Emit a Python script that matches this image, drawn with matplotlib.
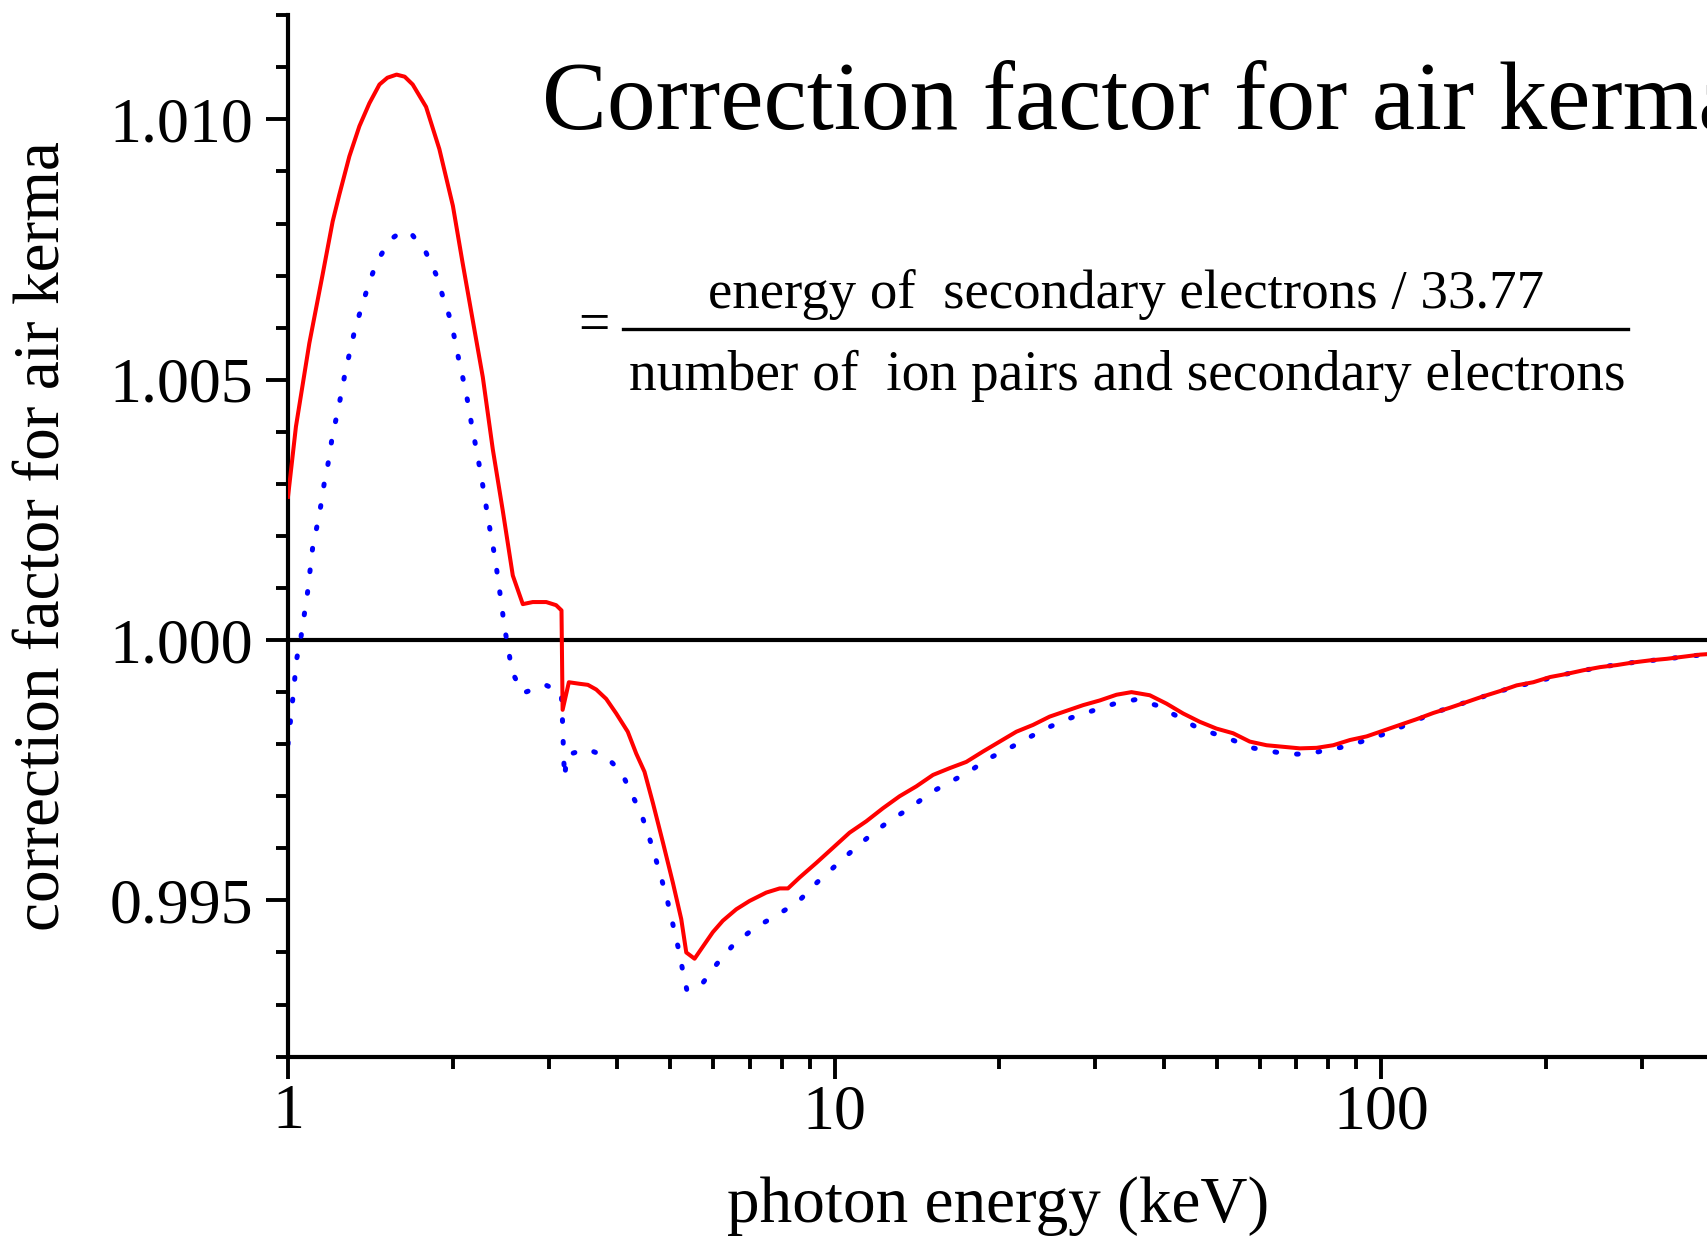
import matplotlib
matplotlib.use("Agg")
import matplotlib.pyplot as plt
from matplotlib.ticker import MultipleLocator, NullFormatter, LogLocator
from matplotlib.lines import Line2D

plt.rcParams['font.family'] = ['Liberation Serif', 'DejaVu Serif']

# ---- data ----
# red solid curve
energy_red = [1.000, 1.034, 1.094, 1.157, 1.207, 1.241, 1.295, 1.351, 1.409, 1.470,
              1.520, 1.580, 1.635, 1.691, 1.789, 1.892, 2.003, 2.087, 2.178, 2.272, 2.370, 2.471,
              2.578, 2.689, 2.804, 2.968, 3.094, 3.165, 3.180, 3.265, 3.416, 3.537,
              3.664, 3.821, 3.986, 4.184, 4.336, 4.490, 4.652, 4.853, 5.060, 5.242,
              5.354, 5.544, 5.783, 5.988, 6.246, 6.610, 6.991, 7.499, 7.935, 8.217,
              8.630, 9.259, 9.931, 10.65, 11.43, 12.26, 13.15, 14.11, 15.14, 16.24,
              17.42, 18.69, 20.05, 21.51, 23.07, 24.75, 26.55, 28.49, 30.56, 32.80,
              34.93, 37.73, 40.47, 43.42, 46.58, 49.96, 53.60, 57.50, 61.71, 66.19,
              71.01, 76.21, 81.72, 87.67, 94.08, 100.9, 108.2, 116.1, 124.6, 133.6,
              143.4, 153.8, 165.0, 177.0, 189.8, 203.8, 218.6, 234.4, 251.5, 269.9,
              289.3, 310.4, 333.2, 357.2, 383.1, 396.4]
factor_red = [1.00275, 1.00410, 1.00570, 1.00702, 1.00804, 1.00855, 1.00929, 1.00987, 1.01031, 1.01067,
              1.01080, 1.01086, 1.01082, 1.01067, 1.01024, 1.00943, 1.00834, 1.00724, 1.00614, 1.00505, 1.00366, 1.00249,
              1.00124, 1.00069, 1.00073, 1.00073, 1.00067, 1.00057, 0.99866, 0.99919, 0.99916, 0.99914,
              0.99905, 0.99887, 0.99859, 0.99824, 0.99782, 0.99747, 0.99687, 0.99611, 0.99534, 0.99464,
              0.99400, 0.99388, 0.99416, 0.99439, 0.99461, 0.99483, 0.99499, 0.99515, 0.99523, 0.99523,
              0.99544, 0.99572, 0.99601, 0.99630, 0.99652, 0.99677, 0.99700, 0.99719, 0.99741, 0.99754,
              0.99766, 0.99786, 0.99805, 0.99824, 0.99837, 0.99853, 0.99864, 0.99875, 0.99884, 0.99895,
              0.99900, 0.99894, 0.99878, 0.99859, 0.99843, 0.99830, 0.99821, 0.99805, 0.99798, 0.99795,
              0.99792, 0.99793, 0.99798, 0.99808, 0.99815, 0.99826, 0.99837, 0.99848, 0.99860, 0.99870,
              0.99881, 0.99892, 0.99902, 0.99913, 0.99919, 0.99929, 0.99935, 0.99942, 0.99948, 0.99952,
              0.99957, 0.99961, 0.99964, 0.99968, 0.99972, 0.99973]

# blue dotted curve
energy_blue = [1.000, 1.021, 1.037, 1.057, 1.086, 1.109, 1.130, 1.149, 1.166, 1.187,
               1.204, 1.228, 1.251, 1.273, 1.300, 1.328, 1.366, 1.405, 1.455, 1.539,
               1.610, 1.680, 1.789, 1.866, 1.920, 1.979, 2.021, 2.059, 2.103, 2.142, 2.173,
               2.215, 2.250, 2.288, 2.320, 2.360, 2.397, 2.427, 2.460, 2.489, 2.532,
               2.567, 2.689, 2.955, 3.162, 3.175, 3.185, 3.194, 3.207, 3.238, 3.513,
               3.809, 4.071, 4.247, 4.430, 4.574, 4.704, 4.831, 4.954, 5.060, 5.168,
               5.264, 5.369, 5.727, 6.090, 6.544, 7.139, 7.823, 8.570, 9.299, 10.12,
               10.76, 11.75, 12.65, 13.82, 14.93, 16.24, 17.62, 19.01, 20.77, 22.59,
               24.69, 27.13, 29.81, 32.56, 35.68, 38.71, 41.94, 45.49, 48.92, 53.46,
               58.07, 63.01, 67.88, 73.76, 78.60, 85.58, 93.39, 102.3, 111.0, 124.6,
               143.4, 165.0, 189.8, 218.6, 251.5, 289.3, 333.2, 396.4]
factor_blue = [0.99800, 0.99890, 0.99963, 1.00008, 1.00092, 1.00176, 1.00219, 1.00260, 1.00304, 1.00345,
               1.00388, 1.00431, 1.00472, 1.00515, 1.00557, 1.00600, 1.00642, 1.00684, 1.00727, 1.00769,
               1.00784, 1.00781, 1.00744, 1.00702, 1.00660, 1.00618, 1.00576, 1.00532, 1.00490, 1.00447, 1.00406,
               1.00363, 1.00322, 1.00278, 1.00236, 1.00193, 1.00152, 1.00110, 1.00067, 1.00024, 0.99982,
               0.99940, 0.99898, 0.99914, 0.99900, 0.99859, 0.99816, 0.99775, 0.99736, 0.99779, 0.99791,
               0.99777, 0.99747, 0.99706, 0.99666, 0.99623, 0.99581, 0.99539, 0.99496, 0.99454, 0.99412,
               0.99370, 0.99327, 0.99340, 0.99378, 0.99416, 0.99447, 0.99471, 0.99497, 0.99535, 0.99570,
               0.99595, 0.99629, 0.99654, 0.99679, 0.99706, 0.99727, 0.99747, 0.99771, 0.99791, 0.99812,
               0.99833, 0.99851, 0.99865, 0.99878, 0.99886, 0.99875, 0.99856, 0.99835, 0.99822, 0.99808,
               0.99793, 0.99786, 0.99781, 0.99781, 0.99788, 0.99795, 0.99807, 0.99821, 0.99837, 0.99860,
               0.99881, 0.99902, 0.99919, 0.99935, 0.99948, 0.99957, 0.99964, 0.99973]

x_ticks = [1, 10, 100]
x_tick_labels = ["1", "10", "100"]
y_ticks = [0.995, 1.000, 1.005, 1.010]
y_tick_labels = ["0.995", "1.000", "1.005", "1.010"]

title_text = "Correction factor for air kerma"
numerator_text = "energy of  secondary electrons / 33.77"
denominator_text = "number of  ion pairs and secondary electrons"
xlabel_text = "photon energy (keV)"
ylabel_text = "correction factor for air kerma"

# ---- figure ----
W, H = 1708, 1238
fig = plt.figure(figsize=(W / 100, H / 100), dpi=100)
ax = fig.add_axes([288 / W, 181.4 / H, 1 - 288 / W, (1056.6 - 15.25) / H])

ax.axhline(1.0, color='black', lw=3.0, zorder=1)
ax.plot(energy_blue, factor_blue, color='#0000ff', lw=3.6,
        linestyle=(0, (0.35, 4.0)), dash_capstyle='round', zorder=2)
ax.plot(energy_red, factor_red, color='#ff0000', lw=2.9, zorder=3,
        solid_joinstyle='round')

ax.set_xscale('log')
ax.set_xlim(1, 10 ** 2.598)
ax.set_ylim(0.992, 1.012)

ax.set_xticks(x_ticks)
ax.set_xticklabels(x_tick_labels)
ax.xaxis.set_minor_locator(LogLocator(base=10, subs=range(2, 10)))
ax.xaxis.set_minor_formatter(NullFormatter())
ax.set_yticks(y_ticks)
ax.set_yticklabels(y_tick_labels)
ax.yaxis.set_minor_locator(MultipleLocator(0.001))

for s in ['top', 'right']:
    ax.spines[s].set_visible(False)
for s in ['left', 'bottom']:
    ax.spines[s].set_linewidth(3.0)

ax.tick_params(axis='both', which='major', direction='out', length=16, width=2.8,
               labelsize=46, color='black')
ax.tick_params(axis='both', which='minor', direction='out', length=8.5, width=2.8)
ax.tick_params(axis='x', which='major', pad=4)
ax.tick_params(axis='y', which='major', pad=9)

# texts
fig.text(542 / W, 1 - 129 / H, title_text, fontsize=70, ha='left', va='baseline')
fig.text(1126 / W, 1 - 308.5 / H, numerator_text, fontsize=39.5, ha='center', va='baseline')
fig.text(1127.5 / W, 1 - 390 / H, denominator_text, fontsize=40, ha='center', va='baseline')
fig.add_artist(Line2D([623 / W, 1628.5 / W], [1 - 329 / H, 1 - 329 / H],
                      transform=fig.transFigure, color='black', lw=2.4))
fig.text(594 / W, 1 - 341 / H, "=", fontsize=40, ha='center', va='baseline')

fig.text(998 / W, 1 - 1222 / H, xlabel_text, fontsize=47, ha='center', va='baseline')
fig.text(44 / W, 1 - 536 / H, ylabel_text, fontsize=47, ha='center', va='center',
         rotation=90)

fig.savefig("out.png", dpi=100)
